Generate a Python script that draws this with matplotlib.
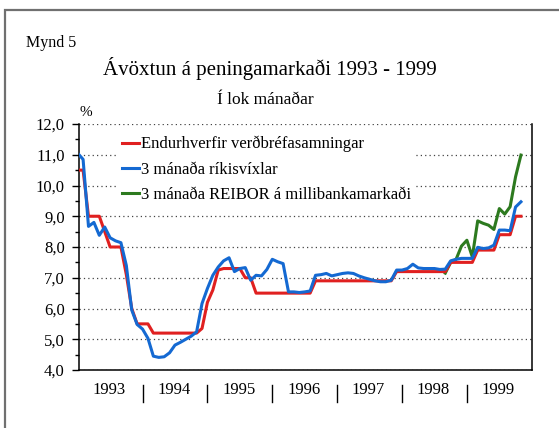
import numpy as np
import matplotlib
matplotlib.use("Agg")
import matplotlib.pyplot as plt
from matplotlib.patches import Rectangle

plt.rcParams['font.family'] = ['Liberation Serif', 'DejaVu Serif']

years = ['1993', '1994', '1995', '1996', '1997', '1998', '1999']

# month-end values, Dec 1992 .. Oct 1999
endurhverf = ([10.5, 10.5, 9.0, 9.0, 9.0, 8.5, 8.0, 8.0, 8.0, 7.1, 6.0, 5.5, 5.5, 5.5]
              + [5.2] * 9
              + [5.35, 6.2, 6.6, 7.25]
              + [7.3] * 4 + [7.0] * 2
              + [6.5] * 11 + [6.9] * 15 + [7.2] * 10 + [7.5] * 5
              + [7.9] * 4 + [8.4] * 3 + [9.0] * 2)

rikisvixlar = [11.05, 10.85, 8.67, 8.8, 8.38, 8.65, 8.3, 8.2, 8.14, 7.4, 5.95, 5.48,
               5.33, 5.03, 4.45, 4.41, 4.43, 4.56, 4.81, 4.9, 5.0, 5.1, 5.24, 6.16,
               6.65, 7.08, 7.35, 7.55, 7.65, 7.2, 7.3, 7.33, 6.92, 7.08, 7.06, 7.27,
               7.6, 7.52, 7.46, 6.54, 6.54, 6.52, 6.54, 6.57, 7.08, 7.1, 7.14, 7.06,
               7.1, 7.14, 7.16, 7.14, 7.06, 7.0, 6.95, 6.9, 6.87, 6.87, 6.92, 7.25,
               7.25, 7.3, 7.44, 7.32, 7.3, 7.3, 7.3, 7.27, 7.28, 7.55, 7.6, 7.63,
               7.63, 7.63, 7.99, 7.95, 7.97, 8.06, 8.55, 8.55, 8.53, 9.3, 9.47]

reibor = [np.nan] * 68 + [7.15, 7.5, 7.6, 8.03, 8.22, 7.68, 8.85, 8.77, 8.71, 8.57,
                          9.25, 9.07, 9.31, 10.28, 10.99]

labels = ['Endurhverfir verðbréfasamningar', '3 mánaða ríkisvíxlar',
          '3 mánaða REIBOR á millibankamarkaði']
colors = ['#e02020', '#1469d2', '#2d7a1f']

months = np.arange(len(endurhverf))

fig = plt.figure(figsize=(5.59, 4.28), dpi=100)
W, H = 559, 428

# outer frame (clipped at right/bottom)
fig.patches.append(Rectangle((5 / W, -0.2), 1.2, 1 - 10 / H + 0.2, transform=fig.transFigure,
                             fill=False, edgecolor='#707070', linewidth=1.6))

ax = fig.add_axes([79.3 / W, 1 - 370 / H, (532.3 - 79.3) / W, (370 - 124) / H])

ax.plot(months, reibor, color=colors[2], lw=2.2, zorder=2, label=labels[2])
ax.plot(months, endurhverf, color=colors[0], lw=2.2, zorder=3, label=labels[0])
ax.plot(months, rikisvixlar, color=colors[1], lw=2.2, zorder=4, label=labels[1])

ax.set_xlim(0.3, 84.1)
ax.set_ylim(4, 12)

ax.set_yticks(np.arange(4, 12.01, 1))
ax.set_yticks(np.arange(4.5, 12, 1), minor=True)
ax.set_yticklabels([f"{v:.1f}".replace('.', ',') for v in np.arange(4, 12.01, 1)], fontsize=12)
ax.tick_params(axis='y', which='major', direction='out', length=5, width=1, pad=5.5)
ax.tick_params(axis='y', which='minor', direction='out', length=3, width=1)

centers = [12 * i + 5.8 for i in range(len(years))]
ax.set_xticks(centers)
ax.set_xticklabels(years, fontsize=12)
ax.tick_params(axis='x', length=0, pad=9)

# year separators below the axis
for i in range(1, len(years)):
    ax.plot([12 * i, 12 * i], [-0.061, -0.13], color='black', lw=1.0,
            transform=ax.get_xaxis_transform(), clip_on=False)

ax.grid(axis='y', which='major', color='#444444', linestyle=(0, (1, 2.5)), linewidth=0.9)
ax.spines['top'].set_visible(False)
for s in ['left', 'bottom', 'right']:
    ax.spines[s].set_linewidth(1.1)

h, l = ax.get_legend_handles_labels()
order = [1, 2, 0]
leg = ax.legend([h[i] for i in order], [l[i] for i in order], loc='upper left',
                bbox_to_anchor=((117 - 79.3) / (532.3 - 79.3), (370 - 131) / 246),
                fontsize=12, frameon=True, fancybox=False, framealpha=1,
                edgecolor='none', facecolor='white', handlelength=1.0,
                handletextpad=0.15, labelspacing=0.55, borderpad=0.3,
                borderaxespad=0)
leg.set_zorder(5)

ax.text(0.0, 1.045, '%', transform=ax.transAxes, fontsize=11, ha='left', va='center')

fig.text(26 / W, 1 - 43 / H, 'Mynd 5', fontsize=11.5, ha='left', va='center')
fig.text(270 / W, 1 - 68 / H, 'Ávöxtun á peningamarkaði 1993 - 1999', fontsize=15,
         ha='center', va='center')
fig.text(265 / W, 1 - 100 / H, 'Í lok mánaðar', fontsize=12.5, ha='center', va='center')

fig.savefig('out.png', dpi=100)
